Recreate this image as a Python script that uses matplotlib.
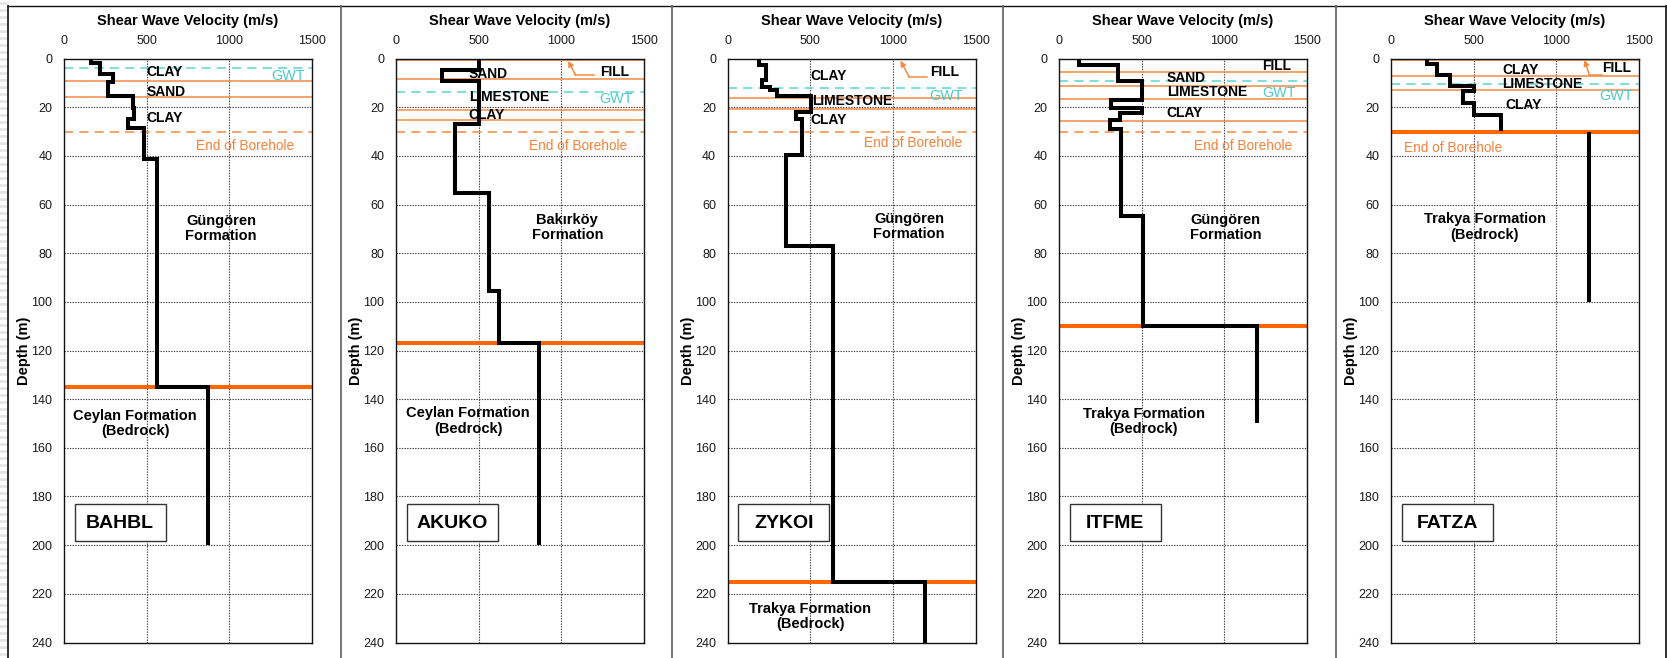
import matplotlib
matplotlib.use("Agg")
import matplotlib.pyplot as plt
from matplotlib.lines import Line2D
from matplotlib.patches import Rectangle

plt.rcParams["font.family"] = ["Liberation Sans", "DejaVu Sans"]

# ---------------------------------------------------------------- data
VS_TICKS = [0, 500, 1000, 1500]
DEPTH_TICKS = list(range(0, 241, 20))

# Shear-wave velocity profiles: layer edges (m) and Vs per layer (m/s)
BAHBL_EDGES = [0, 1.7, 6.5, 9.5, 15.5, 20.2, 25.0, 28.6, 41.5, 135, 200]
BAHBL_VS = [165, 215, 295, 265, 415, 425, 387, 484, 564, 870]
AKUKO_EDGES = [0, 4.9, 9.1, 27.0, 55.4, 95.7, 117, 200]
AKUKO_VS = [500, 280, 500, 358, 564, 623, 865]
ZYKOI_EDGES = [0, 2.8, 8.9, 11.7, 12.8, 15.6, 21.9, 24.7, 39.7, 77, 215, 240]
ZYKOI_VS = [192, 232, 210, 257, 297, 503, 414, 449, 354, 637, 1196]
ITFME_EDGES = [0, 2.8, 9.3, 17.0, 20.2, 22.6, 25.1, 28.8, 64.6, 110, 150]
ITFME_VS = [120, 358, 499, 317, 499, 368, 307, 378, 506, 1200]
FATZA_EDGES = [0, 2.1, 6.6, 11.1, 13.5, 18.1, 23.3, 29.6]
FATZA_VS = [215, 279, 354, 502, 435, 502, 668]
FATZA_ROCK_EDGES = [30, 100]
FATZA_ROCK_VS = [1200]

# Soil layer boundaries, groundwater table, end of borehole, bedrock top (m)
BAHBL_LAYERS = [9.3, 15.9]
AKUKO_LAYERS = [0.8, 8.6, 21.2, 25.1]
ZYKOI_LAYERS = [0.4, 16.3, 20.8]
ITFME_LAYERS = [5.4, 11.4, 16.6, 25.6]
FATZA_LAYERS = [0.8, 7.2, 12.8]
GWT = [4.0, 13.8, 12.3, 9.3, 10.3]
BOREHOLE_END = [30, 30, 30, 30, None]
BEDROCK_TOP = [135, 117, 215, 110, 30]

STATIONS = ["BAHBL", "AKUKO", "ZYKOI", "ITFME", "FATZA"]

# ---------------------------------------------------------------- styles
ORANGE = "#F58A42"
ORANGE_TXT = "#F5823A"
ROCK = "#FF6600"
CYAN = "#5CD3D3"
CYAN_TXT = "#4CC8C8"

W, H = 1667, 658
fig = plt.figure(figsize=(W / 100, H / 100), dpi=100)

PANEL_X = [8, 341, 672, 1003, 1336, 1666]
PLOT_X = [64, 396, 727.7, 1059, 1391]
PLOT_W = 248
PLOT_TOP, PLOT_BOTTOM = 58.5, 642.5

# sheet background stripes and panel frames
for yy in range(3, H, 7):
    fig.add_artist(Line2D([0, 7 / W], [1 - yy / H] * 2, color="#e4e4e4",
                          lw=1.8, transform=fig.transFigure))
fig.add_artist(Line2D([PANEL_X[0] / W, 1], [1 - 5.5 / H] * 2, color="#111111",
                      lw=1.0, transform=fig.transFigure))
for i, px in enumerate(PANEL_X):
    col = "#222222" if i in (0, len(PANEL_X) - 1) else "#6a6a6a"
    fig.add_artist(Line2D([px / W] * 2, [0, 1 - 5.5 / H], color=col, lw=1.3,
                          transform=fig.transFigure))

profiles = [
    [(BAHBL_EDGES, BAHBL_VS)],
    [(AKUKO_EDGES, AKUKO_VS)],
    [(ZYKOI_EDGES, ZYKOI_VS)],
    [(ITFME_EDGES, ITFME_VS)],
    [(FATZA_EDGES, FATZA_VS), (FATZA_ROCK_EDGES, FATZA_ROCK_VS)],
]
layers = [BAHBL_LAYERS, AKUKO_LAYERS, ZYKOI_LAYERS, ITFME_LAYERS, FATZA_LAYERS]

# annotation placement per panel (velocity, depth)
soil_labels = [
    [("CLAY", 498, 5.5), ("SAND", 498, 13.6), ("CLAY", 498, 24.6)],
    [("SAND", 440, 6.4), ("LIMESTONE", 440, 16.0), ("CLAY", 440, 23.4)],
    [("CLAY", 503, 7.3), ("LIMESTONE", 508, 17.5), ("CLAY", 503, 25.4)],
    [("FILL", 1227, 3.1), ("SAND", 651, 7.9), ("LIMESTONE", 651, 13.6), ("CLAY", 651, 22.3)],
    [("CLAY", 674, 4.7), ("LIMESTONE", 674, 10.4), ("CLAY", 694, 19.1)],
]
gwt_label = [(1355, 7.0), (1328, 16.6), (1322, 15.6), (1332, 14.2), (1360, 15.6)]
eob_label = [(1093, 35.8), (1104, 35.8), (1120, 34.8), (1112, 36.0), (374, 36.8)]
fill_label = [None, (1233, 5.6), (1223, 5.6), None, (1277, 4.0)]
fill_arrow = [None, ((1197, 6.6), (1085, 6.6), (1041, 1.0)),
              ((1207, 7.4), (1096, 7.4), (1045, 0.9)), None,
              ((1277, 6.8), (1200, 6.8), (1170, 0.6))]
formation_labels = [
    [("Güngören\nFormation", 950, 70), ("Ceylan Formation\n(Bedrock)", 430, 150)],
    [("Bakırköy\nFormation", 1036, 69.5), ("Ceylan Formation\n(Bedrock)", 437, 149)],
    [("Güngören\nFormation", 1097, 69), ("Trakya Formation\n(Bedrock)", 498, 229.4)],
    [("Güngören\nFormation", 1008, 69.4), ("Trakya Formation\n(Bedrock)", 514, 149.3)],
    [("Trakya Formation\n(Bedrock)", 568, 69.3)],
]

for i, name in enumerate(STATIONS):
    ax = fig.add_axes([PLOT_X[i] / W, 1 - PLOT_BOTTOM / H, PLOT_W / W,
                       (PLOT_BOTTOM - PLOT_TOP) / H])
    ax.set_xlim(VS_TICKS[0], VS_TICKS[-1])
    ax.set_ylim(DEPTH_TICKS[-1], DEPTH_TICKS[0])
    ax.set_xticks(VS_TICKS)
    ax.set_xticklabels([str(v) for v in VS_TICKS])
    ax.set_yticks(DEPTH_TICKS)
    ax.xaxis.tick_top()
    ax.xaxis.set_label_position("top")
    ax.tick_params(length=0, pad=8.4, labelsize=9, labelcolor="#1a1a1a")
    ax.set_xlabel("Shear Wave Velocity (m/s)", fontweight="bold", fontsize=10.5,
                  labelpad=7)
    ax.set_ylabel("Depth (m)", fontweight="bold", fontsize=10.5, labelpad=0)
    for s in ax.spines.values():
        s.set_color("#111111")
        s.set_linewidth(1.0)
    for v in VS_TICKS[1:-1]:
        ax.axvline(v, color="#3a3a3a", lw=0.8, ls=(0, (1.2, 1.2)), zorder=1)
    for d in DEPTH_TICKS[1:-1]:
        ax.axhline(d, color="#3a3a3a", lw=0.8, ls=(0, (1.2, 1.2)), zorder=1)

    # layer boundaries, water table, borehole end, bedrock
    for d in layers[i]:
        ax.axhline(d, color=ORANGE, lw=1.1, zorder=2)
    ax.axhline(GWT[i], color=CYAN, lw=1.1, ls=(0, (6, 4)), zorder=2)
    if BOREHOLE_END[i] is not None:
        ax.axhline(BOREHOLE_END[i], color=ORANGE, lw=1.1, ls=(0, (6, 4)), zorder=2)
    ax.axhline(BEDROCK_TOP[i], color=ROCK, lw=2.9, zorder=2)

    # Vs profile
    for edges, vs in profiles[i]:
        ax.stairs(vs, edges, orientation="horizontal", baseline=None,
                  color="black", lw=2.9, zorder=4)

    for txt, x, y in soil_labels[i]:
        ax.text(x, y, txt, fontsize=10, fontweight="bold", ha="left",
                va="center", zorder=6)
    ax.text(*gwt_label[i], "GWT", fontsize=10.3, color=CYAN_TXT, ha="center",
            va="center", zorder=6)
    ax.text(*eob_label[i], "End of Borehole", fontsize=9.8, color=ORANGE_TXT,
            ha="center", va="center", zorder=6)
    if fill_label[i] is not None:
        ax.text(*fill_label[i], "FILL", fontsize=10, fontweight="bold",
                ha="left", va="center", zorder=6)
    if fill_arrow[i] is not None:
        start, elbow, head = fill_arrow[i]
        ax.plot([start[0], elbow[0]], [start[1], elbow[1]], color=ORANGE, lw=1.1,
                zorder=5)
        ax.annotate("", xy=head, xytext=elbow,
                    arrowprops=dict(arrowstyle="-|>", color=ORANGE, lw=1.1,
                                    mutation_scale=8, shrinkA=0, shrinkB=0),
                    zorder=5)
    for txt, x, y in formation_labels[i]:
        ax.text(x, y, txt, fontsize=10.5, fontweight="bold", ha="center",
                va="center", linespacing=1.12, zorder=6)

    # station name box
    ax.add_patch(Rectangle((64, 183.2), 550, 15.0, facecolor="white",
                           edgecolor="#333333", lw=1.0, zorder=6))
    ax.text(339, 190.9, name, fontsize=14, fontweight="bold", ha="center",
            va="center", zorder=7)

fig.savefig("out.png", dpi=100)
